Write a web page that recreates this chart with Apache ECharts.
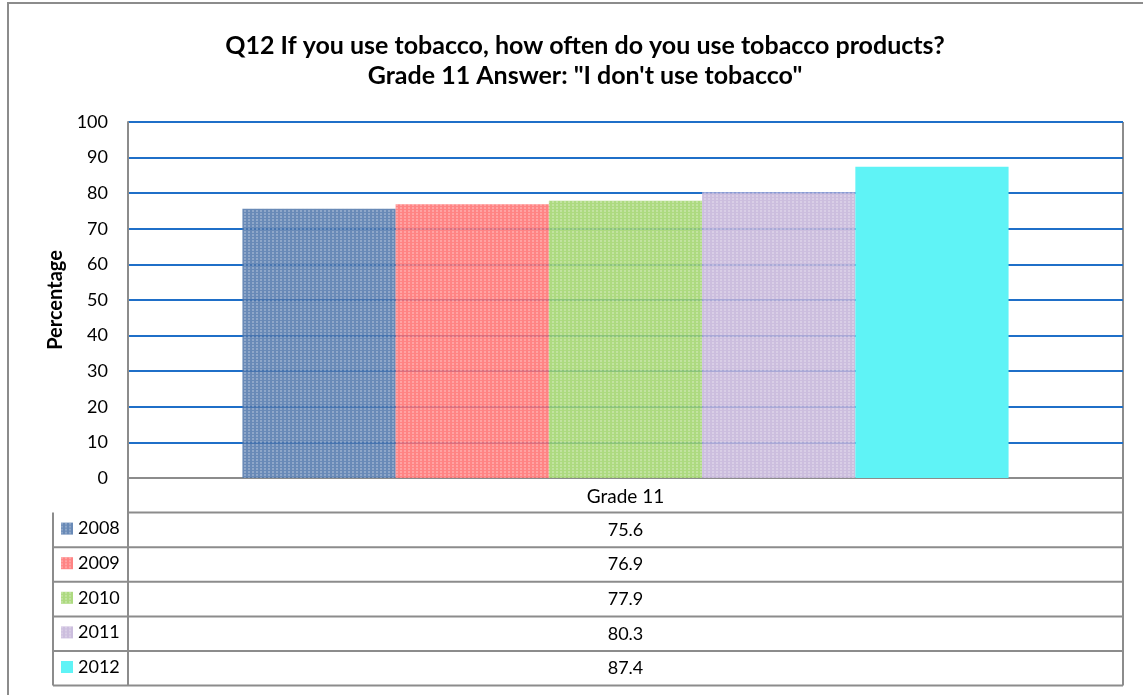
<!DOCTYPE html>
<html><head><meta charset="utf-8">
<script src="https://cdn.jsdelivr.net/npm/echarts@6/dist/echarts.min.js"></script>
<style>html,body{margin:0;padding:0;background:#fff}#c{width:1143px;height:695px}</style>
</head><body><div id="c"></div>
<script>
const titleLines = ['Q12 If you use tobacco, how often do you use tobacco products?', 'Grade 11 Answer: "I don\'t use tobacco"'];
const categories = ['Grade 11'];
const years = ['2008', '2009', '2010', '2011', '2012'];
const values = [75.6, 76.9, 77.9, 80.3, 87.4];
const colors = ['#4f76aa', '#ff6f6f', '#9fd46a', '#c3b3d8', '#5ff3f6'];
const patterned = [true, true, true, true, false];
const yTicks = { min: 0, max: 100, interval: 10 };
const yName = 'Percentage';

const FONT = 'Lato, "Open Sans", sans-serif';
const chart = echarts.init(document.getElementById('c'), null, { renderer: 'canvas' });

const G = { left: 128, right: 1123, top: 122, bottom: 478 };
const rowH = 34.6;

function decal() {
  return { symbol: 'rect', symbolSize: 1, dashArrayX: [[2, 2]], dashArrayY: [2, 1], color: 'rgba(255,255,255,0.3)', rotation: 0 };
}

const series = years.map((y, i) => ({
  name: y, type: 'bar', barGap: 0, barCategoryGap: '23%',
  data: [values[i]],
  itemStyle: Object.assign({ color: colors[i], opacity: patterned[i] ? 0.85 : 1 }, patterned[i] ? { decal: decal() } : {})
}));

// table graphics
const gfx = [];
gfx.push({ type: 'rect', shape: { x: 8, y: 3, width: 1160, height: 720 }, style: { fill: 'none', stroke: '#8c8c8c', lineWidth: 2 }, silent: true });
const nRows = years.length;
const tableBottom = G.bottom + rowH * (nRows + 1);
const lineStyle = { stroke: '#8c8c8c', lineWidth: 2 };
gfx.push({ type: 'line', shape: { x1: G.left, y1: G.bottom + rowH, x2: G.right, y2: G.bottom + rowH }, style: lineStyle });
for (let r = 1; r <= nRows; r++) {
  const yy = G.bottom + rowH * (r + 1);
  gfx.push({ type: 'line', shape: { x1: 53, y1: yy, x2: G.right, y2: yy }, style: lineStyle });
}
gfx.push({ type: 'line', shape: { x1: 53, y1: G.bottom + rowH, x2: 53, y2: tableBottom }, style: lineStyle });
gfx.push({ type: 'line', shape: { x1: G.left, y1: G.bottom, x2: G.left, y2: tableBottom }, style: lineStyle });
gfx.push({ type: 'line', shape: { x1: G.right, y1: G.top, x2: G.right, y2: tableBottom }, style: lineStyle });
years.forEach((y, i) => {
  gfx.push({ type: 'text', x: (G.left + G.right) / 2, y: G.bottom + rowH * (i + 1.5),
    style: { text: values[i].toFixed(1), font: '18px ' + FONT, fill: '#000', align: 'center', verticalAlign: 'middle' } });
});

chart.setOption({
  animation: false,
  backgroundColor: '#fff',
  title: {
    text: titleLines.join('\n'), left: 580, top: 26, textAlign: 'center',
    textStyle: { fontFamily: FONT, fontWeight: 'bold', fontSize: 25, lineHeight: 30, color: '#000' }
  },
  legend: {
    orient: 'vertical', left: 56, top: G.bottom + rowH + 1, itemWidth: 12, itemHeight: 12,
    itemGap: rowH - 20, icon: 'rect',
    textStyle: { fontFamily: FONT, fontSize: 18, color: '#000', lineHeight: 20 },
    data: years
  },
  grid: { left: G.left, right: 1143 - G.right, top: G.top, bottom: 695 - G.bottom },
  xAxis: {
    type: 'category', data: categories,
    axisLine: { lineStyle: { color: '#8c8c8c', width: 2 } }, axisTick: { show: false },
    axisLabel: { fontFamily: FONT, fontSize: 19, color: '#000', margin: 9 }
  },
  yAxis: {
    type: 'value', min: yTicks.min, max: yTicks.max, interval: yTicks.interval,
    name: yName, nameLocation: 'middle', nameRotate: 90, nameGap: 62,
    nameTextStyle: { fontFamily: FONT, fontWeight: 'bold', fontSize: 20, color: '#000' },
    axisLine: { show: true, lineStyle: { color: '#8c8c8c', width: 2 } }, axisTick: { show: false },
    axisLabel: { fontFamily: FONT, fontSize: 18, color: '#000', margin: 20 },
    splitLine: { lineStyle: { color: '#1f6fc8', width: 2 } }
  },
  series: series,
  graphic: gfx
});
</script></body></html>
